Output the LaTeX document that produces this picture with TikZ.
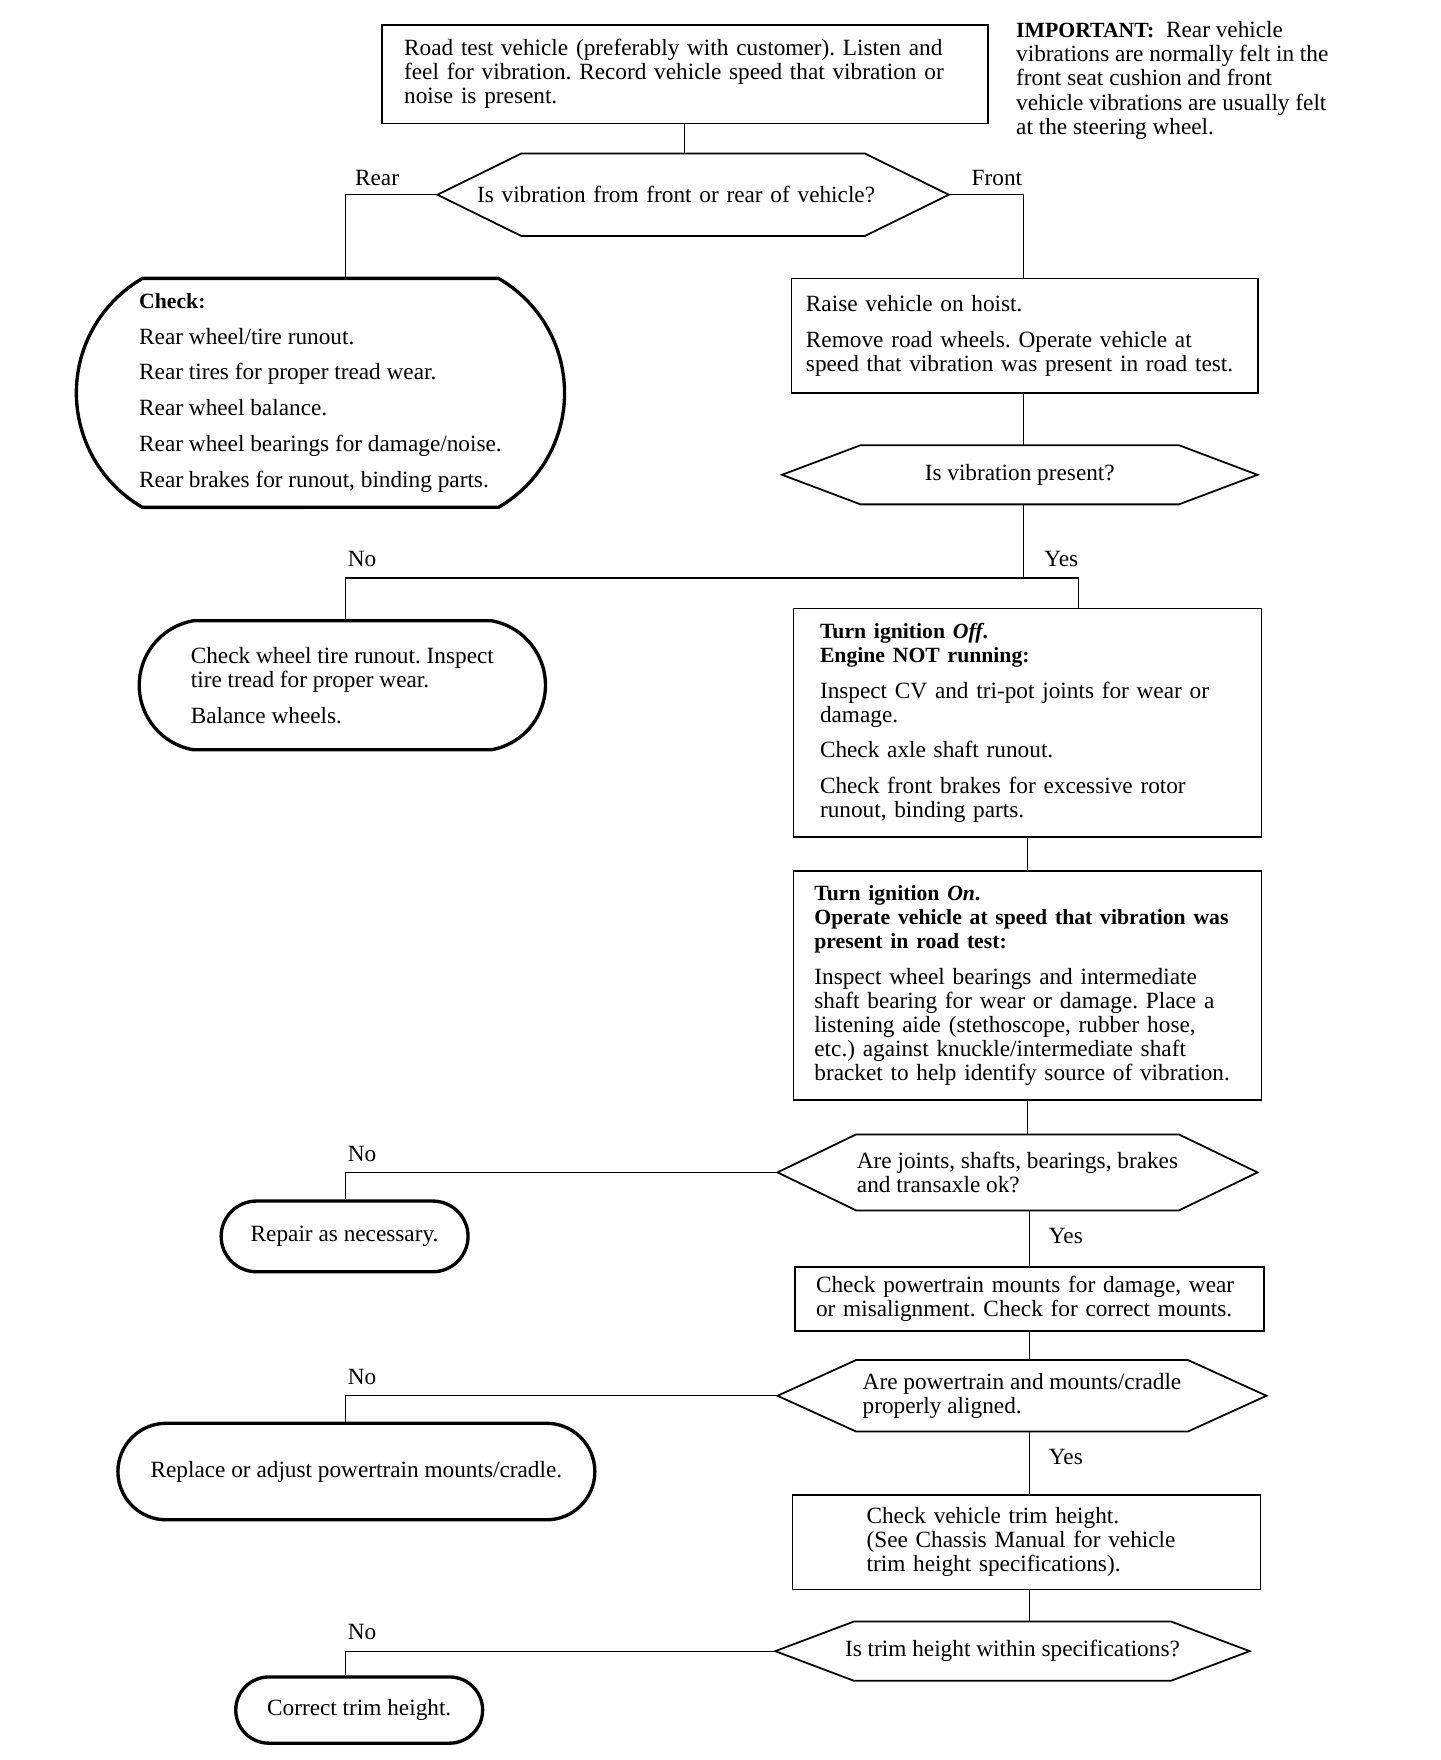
\documentclass[tikz,border=0pt]{standalone}
\usepackage{fontspec}
\setmainfont{Liberation Serif}
\usetikzlibrary{shapes.misc,positioning}

% outline of a decision node: pointed at west and east
\newcommand{\hexout}[2]{%
  \draw[hexline] (#1.west) -- ([xshift=#2]#1.north west) -- ([xshift=-#2]#1.north east)
    -- (#1.east) -- ([xshift=-#2]#1.south east) -- ([xshift=#2]#1.south west) -- cycle;}
% bold headings are set a little smaller
\newcommand{\hd}[1]{{\fontsize{11}{12.2}\selectfont\bfseries #1}}

\begin{document}
\frenchspacing
\begin{tikzpicture}[
        x=0.02cm,
        y=-0.02cm,
        font=\fontsize{11.8}{12.2}\selectfont,
        box/.style={draw, line width=0.85pt, align=left, inner sep=0pt},
        term/.style={draw, rounded rectangle, line width=1.7pt, align=left, inner sep=0pt},
        query/.style={align=left, inner sep=0pt},
        hexline/.style={line width=0.9pt, line join=miter},
        link/.style={line width=0.6pt},
        answer/.style={inner sep=0pt}
    ]
        \useasboundingbox (0,0) rectangle (1283,1568);

        % Start of the test and the note beside it.
        \node[box, minimum width=10.8cm, minimum height=1.76cm, text width=10cm] (road) at (610,66)
            {Road test vehicle (preferably with customer). Listen and\\
             feel for vibration. Record vehicle speed that vibration or\\
             noise is present.};
        \node[anchor=north west, align=left, inner sep=0pt] (note) at (905,19)
            {\hd{IMPORTANT:}\ \ Rear vehicle\\
             vibrations are normally felt in the\\
             front seat cushion and front\\
             vehicle vibrations are usually felt\\
             at the steering wheel.};

        \node[query, minimum width=9.1cm, minimum height=1.46cm, text width=7.7cm] (where) at (617.5,173.5)
            {Is vibration from front or rear of vehicle?};
        \hexout{where}{1.5cm}

        % Rear branch.
        \node[term, rounded rectangle arc length=120, minimum width=8.7cm, minimum height=4.08cm] (rearcheck) at (285.5,350)
            {\hd{Check:}\\[6pt]
             Rear wheel/tire runout.\\[6pt]
             Rear tires for proper tread wear.\\[6pt]
             Rear wheel balance.\\[6pt]
             Rear wheel bearings for damage/noise.\\[6pt]
             Rear brakes for runout, binding parts.};

        % Front branch.
        \node[box, minimum width=8.32cm, minimum height=2.04cm, text width=7.8cm] (hoist) at (913,299)
            {Raise vehicle on hoist.\\[6pt]
             Remove road wheels. Operate vehicle at\\
             speed that vibration was present in road test.};
        \node[query, minimum width=8.46cm, minimum height=1.04cm] (present) at (908.5,423)
            {Is vibration present?};
        \hexout{present}{1.4cm}

        \node[term, rounded rectangle arc length=160, minimum width=7.24cm, minimum height=2.3cm] (wheels) at (305,610.5)
            {Check wheel tire runout. Inspect\\
             tire tread for proper wear.\\[6pt]
             Balance wheels.};
        \node[box, minimum width=8.34cm, minimum height=4.08cm, text width=7.4cm] (offtest) at (915.5,644)
            {\hd{Turn ignition \textit{Off}.}\\
             \hd{Engine NOT running:}\\[6pt]
             Inspect CV and tri-pot joints for wear or\\
             damage.\\[6pt]
             Check axle shaft runout.\\[6pt]
             Check front brakes for excessive rotor\\
             runout, binding parts.};
        \node[box, minimum width=8.34cm, minimum height=4.08cm, text width=7.6cm] (ontest) at (915.5,878)
            {\hd{Turn ignition \textit{On}.}\\
             \hd{Operate vehicle at speed that vibration was}\\
             \hd{present in road test:}\\[6pt]
             Inspect wheel bearings and intermediate\\
             shaft bearing for wear or damage. Place a\\
             listening aide (stethoscope, rubber hose,\\
             etc.) against knuckle/intermediate shaft\\
             bracket to help identify source of vibration.};

        \node[query, minimum width=8.54cm, minimum height=1.34cm] (jointsok) at (906.5,1044.5)
            {Are joints, shafts, bearings, brakes\\
             and transaxle ok?};
        \hexout{jointsok}{1.4cm}
        \node[term, minimum width=4.4cm, minimum height=1.26cm] (repair) at (307,1101.5)
            {Repair as necessary.};

        \node[box, minimum width=8.36cm, minimum height=1.14cm, text width=7.6cm] (mounts) at (917,1157.5)
            {Check powertrain mounts for damage, wear\\
             or misalignment. Check for correct mounts.};
        \node[query, minimum width=8.7cm, minimum height=1.26cm] (aligned) at (910.5,1243.5)
            {Are powertrain and mounts/cradle\\
             properly aligned.};
        \hexout{aligned}{1.4cm}
        \node[term, minimum width=8.5cm, minimum height=1.72cm] (replace) at (317.5,1311)
            {Replace or adjust powertrain mounts/cradle.};

        \node[box, minimum width=8.34cm, minimum height=1.68cm, text width=5.7cm] (trim) at (914.5,1374)
            {Check vehicle trim height.\\
             (See Chassis Manual for vehicle\\
             trim height specifications).};
        \node[query, minimum width=8.44cm, minimum height=1.04cm] (withinspec) at (902,1471)
            {Is trim height within specifications?};
        \hexout{withinspec}{1.4cm}
        \node[term, minimum width=4.4cm, minimum height=1.18cm] (correct) at (320,1523.5)
            {Correct trim height.};

        % Connectors.
        \coordinate (rear) at (308,173.5);
        \coordinate (front) at (912,173.5);
        \coordinate (split) at (912,515);
        \coordinate (nosplit) at (308,515);
        \coordinate (yessplit) at (961,515);
        \coordinate (nojoints) at (308,1044.5);
        \coordinate (noaligned) at (308,1243.5);
        \coordinate (nospec) at (308,1471);

        \draw[link] (road.south) -- (road.south |- where.north);
        \draw[link] (where.west) -- (rear) -- (rear |- rearcheck.north);
        \draw[link] (where.east) -- (front) -- (front |- hoist.north);
        \draw[link] (front |- hoist.south) -- (front |- present.north);
        \draw[link] (split |- present.south) -- (split);
        \draw[link] (nosplit |- wheels.north) -- (nosplit) -- (yessplit) -- (yessplit |- offtest.north);
        \draw[link] (offtest.south) -- (offtest.south |- ontest.north);
        \draw[link] (ontest.south) -- (ontest.south |- jointsok.north);
        \draw[link] (jointsok.west) -- (nojoints) -- (nojoints |- repair.north);
        \draw[link] (mounts.north |- jointsok.south) -- node[answer, pos=0.45, right=0.34cm] {Yes} (mounts.north);
        \draw[link] (mounts.south) -- (mounts.south |- aligned.north);
        \draw[link] (aligned.west) -- (noaligned) -- (noaligned |- replace.north);
        \draw[link] (mounts.south |- aligned.south) -- node[answer, pos=0.40, right=0.34cm] {Yes} (mounts.south |- trim.north);
        \draw[link] (mounts.south |- trim.south) -- (mounts.south |- withinspec.north);
        \draw[link] (withinspec.west) -- (nospec) -- (nospec |- correct.north);

        % Answer labels.
        \node[answer, anchor=base west, xshift=0.16cm, yshift=0.16cm] at (rear) {Rear};
        \node[answer, anchor=base east, xshift=-0.02cm, yshift=0.17cm] at (front) {Front};
        \node[answer, anchor=base west, xshift=0.03cm, yshift=0.2cm] at (nosplit) {No};
        \node[answer, anchor=base east, yshift=0.2cm] at (yessplit) {Yes};
        \node[answer, anchor=base west, xshift=0.03cm, yshift=0.2cm] at (nojoints) {No};
        \node[answer, anchor=base west, xshift=0.03cm, yshift=0.2cm] at (noaligned) {No};
        \node[answer, anchor=base west, xshift=0.03cm, yshift=0.2cm] at (nospec) {No};
    \end{tikzpicture}
\end{document}
